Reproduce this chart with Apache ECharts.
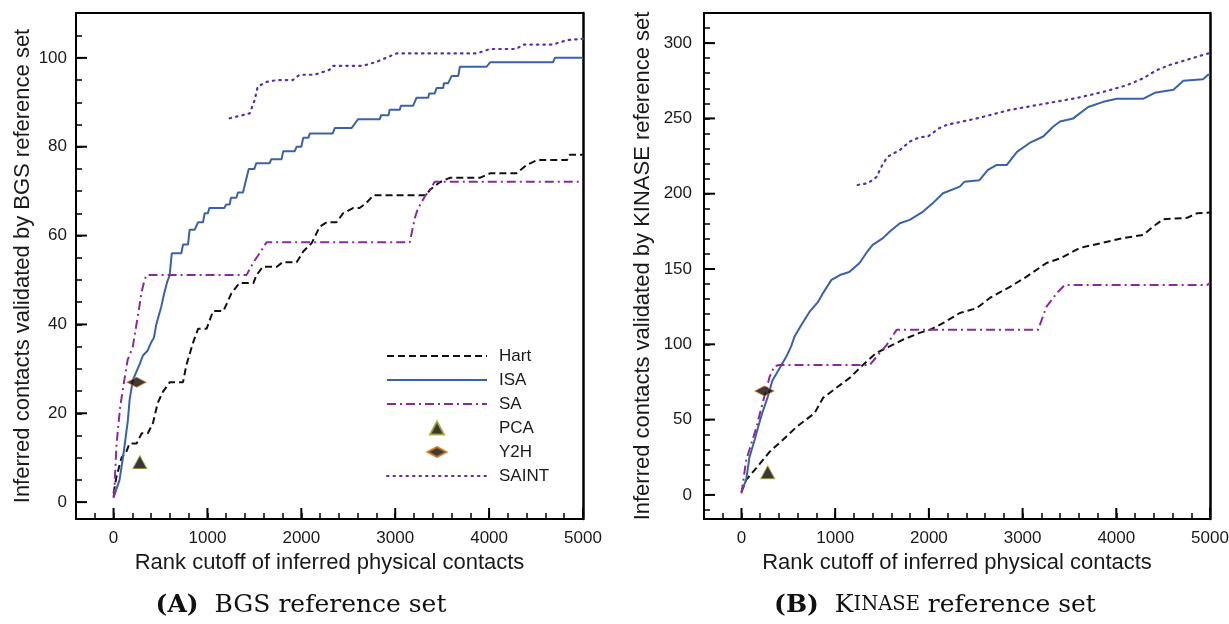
<!DOCTYPE html>
<html>
<head>
<meta charset="utf-8">
<title>Inferred contacts vs rank cutoff</title>
<script src="https://cdn.jsdelivr.net/npm/echarts@6/dist/echarts.min.js"></script>
<style>
  html, body { margin: 0; padding: 0; background: #fff; }
  #chart { width: 1229px; height: 624px; }
</style>
</head>
<body>
<div id="chart"></div>
<script>
// tick values
const xMajor = [0, 1000, 2000, 3000, 4000, 5000];
const xMinor = [-200, 200, 400, 600, 800, 1200, 1400, 1600, 1800, 2200, 2400, 2600, 2800,
  3200, 3400, 3600, 3800, 4200, 4400, 4600, 4800];
const bgsYMajor = [0, 20, 40, 60, 80, 100];
const bgsYMinor = [5, 10, 15, 25, 30, 35, 45, 50, 55, 65, 70, 75, 85, 90, 95, 105];
const kinYMajor = [0, 50, 100, 150, 200, 250, 300];
const kinYMinor = [-10, 10, 20, 30, 40, 60, 70, 80, 90, 110, 120, 130, 140, 160, 170, 180, 190,
  210, 220, 230, 240, 260, 270, 280, 290, 310];

// (A) BGS reference set: [rank cutoff, validated contacts]
const bgsHart = [[0,2],[30,5.6],[85,10],[135,11.3],[170,13.2],[245,13.2],[300,15.5],[365,15.5],
  [420,17.8],[470,22.3],[525,24.8],[600,27],[740,27],[775,30.8],[845,35.8],[900,39],[990,39],
  [1060,43],[1170,43],[1255,47],[1340,49.3],[1490,49.3],[1520,51],[1590,53],[1740,53],[1800,54],
  [1950,54],[2020,56.4],[2110,58.3],[2196,62],[2270,63],[2375,63],[2444,65],[2550,66.2],
  [2620,66.2],[2690,67.3],[2770,69.1],[3330,69.1],[3370,70.3],[3475,72],[3580,73],[3900,73],
  [4010,74],[4290,74],[4400,75.9],[4510,77],[4830,77],[4860,78.2],[5000,78.2]];
const bgsISA = [[0,1],[64,5],[107,11],[153,18.5],[171,23],[206,27.5],[277,31],[313,33],[360,34],
  [402,36],[430,37],[455,40],[508,44],[540,47],[570,49.5],[597,51],[620,56],[722,56],[740,58],
  [793,58],[810,61.3],[863,61.3],[900,63],[953,63],[970,65],[1005,65],[1020,66.2],[1180,66.2],
  [1200,67],[1237,67],[1250,68.5],[1308,68.5],[1325,69.7],[1378,69.7],[1440,75],[1500,75],
  [1520,76.3],[1663,76.3],[1680,77.2],[1790,77.2],[1807,79],[1930,79],[1950,80],[2000,80],
  [2020,82],[2075,82],[2090,83],[2335,83],[2356,84.2],[2535,84.2],[2605,86.2],[2836,86.2],
  [2850,87.1],[2930,87.1],[2940,88.3],[3049,88.3],[3060,89.2],[3190,89.2],[3226,91],[3351,91],
  [3362,92],[3422,92],[3440,93.2],[3511,93.2],[3518,94.3],[3564,94.3],[3600,95.9],[3671,95.9],
  [3689,98],[3973,98],[4010,99],[4680,99],[4700,100],[5000,100]];
const bgsSA = [[0,1],[10,3.4],[30,12.4],[45,16],[70,21.4],[115,27.5],[150,32],[205,35],[240,39.5],
  [275,44],[295,47],[330,50],[350,51.1],[1415,51.1],[1485,53.8],[1555,56],[1630,58.5],[3155,58.5],
  [3210,64],[3240,66],[3315,68.8],[3370,70.3],[3420,72.1],[5000,72.1]];
const bgsSAINT = [[1237,86.4],[1450,87.5],[1503,90.5],[1535,93.5],[1630,94.6],[1740,95],[1910,95],
  [1980,96.2],[2140,96.2],[2300,97.3],[2335,98.2],[2655,98.2],[2800,99.1],[3015,101],[3870,101],
  [4010,102],[4290,102],[4360,103],[4680,103],[4830,104],[5000,104.3]];
const bgsPCA = [[280, 9]];
const bgsY2H = [[245, 27]];

// (B) KINASE reference set
const kinHart = [[0,2],[50,10],[160,18],[300,28.6],[440,36.5],[585,45],[690,50],[780,54.3],
  [870,64.4],[1010,71],[1155,77.7],[1295,86.3],[1440,94.3],[1580,98.6],[1720,103],[1900,107.6],
  [2010,109.6],[2150,114],[2330,120.8],[2510,124],[2650,130.8],[2860,138],[3040,144.8],
  [3255,154],[3400,157],[3610,164],[3825,167],[4070,170.5],[4285,172.6],[4390,178],[4500,183],
  [4755,184],[4860,187],[5000,187.5]];
const kinISA = [[0,2],[50,10],[85,25],[140,36.5],[190,47.8],[225,55],[280,65],[330,76],[405,84],
  [480,92],[530,98.6],[565,105],[640,113],[725,121.5],[815,128],[870,134],[960,142.8],[1050,146],
  [1150,148],[1260,154],[1330,160.5],[1400,166],[1510,170.5],[1580,174.8],[1690,180.4],
  [1795,182.6],[1935,188],[2040,193.6],[2150,200.3],[2330,204.7],[2380,208],[2540,209],
  [2630,215.8],[2720,219],[2830,219],[2940,227.8],[3075,233.7],[3220,238],[3325,244.5],
  [3400,248],[3540,250],[3700,257.6],[3860,261],[4005,263],[4285,263],[4410,267],[4610,269],
  [4715,275],[4925,276],[4980,279],[5000,279]];
const kinSA = [[0,1],[50,23],[85,30],[160,45],[225,61],[265,69.7],[300,78.4],[350,85.3],[400,86.3],
  [1370,86.3],[1440,91.6],[1550,99.6],[1655,109.6],[3165,109.6],[3255,125],[3365,134],
  [3450,139.4],[4970,139.4],[5000,140.8]];
const kinSAINT = [[1240,205.8],[1350,207],[1440,211],[1510,220],[1560,224.6],[1690,229],
  [1795,234.6],[1900,237.5],[1990,238],[2115,243.7],[2190,245.7],[2510,250],[2860,255.6],
  [3220,259.6],[3580,263.6],[3860,267.6],[4110,272],[4285,276.6],[4430,282],[4570,285.5],
  [4785,289.5],[5000,293.5]];
const kinPCA = [[280, 15]];
const kinY2H = [[245, 69]];

const FONT = "Liberation Sans";
const SERIF = "DejaVu Serif";
const X_MIN = -400, X_MAX = 5000;
const BGS_MIN = -3.8, BGS_MAX = 110.1;
const KIN_MIN = -16, KIN_MAX = 320;

const lineStyles = {
  Hart: { color: "#111", width: 2, type: [7, 4] },
  ISA: { color: "#3b62a6", width: 2, type: "solid" },
  SA: { color: "#8a2b9c", width: 2, type: [9, 4, 2, 4] },
  SAINT: { color: "#5530ad", width: 2.2, type: [1.5, 5], cap: "round" }
};

const plain = (v) => String(v);

const labelX = (grid) => ({
  type: "value", gridIndex: grid, min: X_MIN, max: X_MAX, interval: 200, position: "bottom",
  name: "Rank cutoff of inferred physical contacts", nameLocation: "middle", nameGap: 31,
  nameTextStyle: { fontFamily: FONT, fontSize: 22, color: "#1a1a1a" },
  axisLine: { show: true, onZero: false, lineStyle: { color: "#000", width: 2 } },
  axisTick: { show: true, inside: true, length: 6, lineStyle: { color: "#000", width: 1.5 } },
  axisLabel: { show: true, customValues: xMajor, margin: 11, formatter: plain,
    fontFamily: FONT, fontSize: 17, color: "#1a1a1a" },
  splitLine: { show: false }
});
const edgeX = (grid) => ({
  type: "value", gridIndex: grid, min: X_MIN, max: X_MAX, position: "top",
  axisLine: { show: true, onZero: false, lineStyle: { color: "#000", width: 2 } },
  axisTick: { show: false }, axisLabel: { show: false }, splitLine: { show: false }
});
const labelY = (grid, min, max, ticks, allTicks, name, gap, margin) => ({
  type: "value", gridIndex: grid, min: min, max: max, position: "left",
  name: name, nameLocation: "middle", nameGap: gap,
  nameTextStyle: { fontFamily: FONT, fontSize: 22, color: "#1a1a1a" },
  axisLine: { show: true, onZero: false, lineStyle: { color: "#000", width: 2 } },
  axisTick: { show: true, inside: true, length: 6, customValues: allTicks,
    lineStyle: { color: "#000", width: 1.5 } },
  axisLabel: { show: true, customValues: ticks, margin: margin, formatter: plain,
    fontFamily: FONT, fontSize: 17, color: "#1a1a1a" },
  splitLine: { show: false }
});
const edgeY = (grid, min, max) => ({
  type: "value", gridIndex: grid, min: min, max: max, position: "right",
  axisLine: { show: true, onZero: false, lineStyle: { color: "#000", width: 2.5 } },
  axisTick: { show: false }, axisLabel: { show: false }, splitLine: { show: false }
});

const lineSeries = (name, data, axis) => ({
  name: name, type: "line", data: data, xAxisIndex: axis, yAxisIndex: axis,
  symbol: "none", smooth: false, lineStyle: lineStyles[name],
  itemStyle: { color: lineStyles[name].color }, z: 3
});
const pcaSeries = (data, axis) => ({
  name: "PCA", type: "scatter", data: data, xAxisIndex: axis, yAxisIndex: axis,
  symbol: "triangle", symbolSize: [14, 13],
  itemStyle: { color: "#050505", borderColor: "#a3a32a", borderWidth: 1 }, z: 5
});
const y2hSeries = (data, axis) => ({
  name: "Y2H", type: "scatter", data: data, xAxisIndex: axis, yAxisIndex: axis,
  symbol: "diamond", symbolSize: [19, 10],
  itemStyle: { color: "#0a0a0a", borderColor: "#d2731c", borderWidth: 1 }, z: 5
});

const hideDot = { opacity: 0 };
const A = 0, B = 2;

const chart = echarts.init(document.getElementById("chart"), null, { renderer: "canvas" });
chart.setOption({
  animation: false,
  backgroundColor: "#fff",
  grid: [
    { left: 76, top: 13, width: 507, height: 506, show: false,
      containLabel: false, outerBoundsMode: "none" },
    { left: 704, top: 13, width: 506, height: 506, show: false,
      containLabel: false, outerBoundsMode: "none" }
  ],
  xAxis: [labelX(0), edgeX(0), labelX(1), edgeX(1)],
  yAxis: [
    labelY(0, BGS_MIN, BGS_MAX, bgsYMajor, bgsYMajor.concat(bgsYMinor),
      "Inferred contacts validated by BGS reference set", 42, 9),
    edgeY(0, BGS_MIN, BGS_MAX),
    labelY(1, KIN_MIN, KIN_MAX, kinYMajor, kinYMajor.concat(kinYMinor),
      "Inferred contacts validated by KINASE reference set", 50, 12),
    edgeY(1, KIN_MIN, KIN_MAX)
  ],
  legend: {
    orient: "vertical", left: 386, top: 347.5, padding: 0,
    itemWidth: 100, itemHeight: 14, itemGap: 7, selectedMode: false,
    textStyle: { fontFamily: FONT, fontSize: 17, color: "#1a1a1a", padding: [0, 0, 0, 7] },
    data: [
      { name: "Hart", itemStyle: hideDot },
      { name: "ISA", itemStyle: hideDot },
      { name: "SA", itemStyle: hideDot },
      { name: "PCA", icon: "path://M0,0M100,14M43,13.5L50,0.5L57,13.5Z" },
      { name: "Y2H", icon: "path://M0,0M100,14M40.5,7L50,2L59.5,7L50,12Z" },
      { name: "SAINT", itemStyle: hideDot }
    ]
  },
  series: [
    lineSeries("Hart", bgsHart, A),
    lineSeries("ISA", bgsISA, A),
    lineSeries("SA", bgsSA, A),
    pcaSeries(bgsPCA, A),
    y2hSeries(bgsY2H, A),
    lineSeries("SAINT", bgsSAINT, A),
    lineSeries("Hart", kinHart, B),
    lineSeries("ISA", kinISA, B),
    lineSeries("SA", kinSA, B),
    pcaSeries(kinPCA, B),
    y2hSeries(kinY2H, B),
    lineSeries("SAINT", kinSAINT, B)
  ]
});

const captions = [
  { type: "text", x: 301, y: 605, silent: true,
    style: { text: "{b|(A)}{n|  BGS reference set}", align: "center", verticalAlign: "middle",
      rich: {
        b: { fontFamily: SERIF, fontSize: 25, fontWeight: "bold", fill: "#111" },
        n: { fontFamily: SERIF, fontSize: 25, fill: "#111" }
      } } },
  { type: "text", x: 935, y: 605, silent: true,
    style: { text: "{b|(B)}{n|  K}{s|INASE}{n| reference set}", align: "center", verticalAlign: "middle",
      rich: {
        b: { fontFamily: SERIF, fontSize: 25, fontWeight: "bold", fill: "#111" },
        n: { fontFamily: SERIF, fontSize: 25, fill: "#111" },
        s: { fontFamily: SERIF, fontSize: 19.5, fill: "#111" }
      } } }
];

// longer inward marks at the labelled values, placed via the axis scales
const tickMarks = [];
const addTicks = (axis, vals, yMin, isY, len, w) => {
  vals.forEach((v) => {
    const p = chart.convertToPixel({ xAxisIndex: axis, yAxisIndex: axis },
      isY ? [X_MIN, v] : [v, yMin]);
    if (!p || isNaN(p[0]) || isNaN(p[1])) return;
    tickMarks.push({
      type: "line", silent: true, z: 100,
      shape: isY ? { x1: p[0], y1: p[1], x2: p[0] + len, y2: p[1] }
                 : { x1: p[0], y1: p[1], x2: p[0], y2: p[1] - len },
      style: { stroke: "#000", lineWidth: w }
    });
  });
};
addTicks(A, xMajor, BGS_MIN, false, 11, 2);
addTicks(A, bgsYMajor, BGS_MIN, true, 11, 2);
addTicks(B, xMajor, KIN_MIN, false, 11, 2);
addTicks(B, kinYMajor, KIN_MIN, true, 11, 2);
chart.setOption({ graphic: captions.concat(tickMarks) });
</script>
</body>
</html>
